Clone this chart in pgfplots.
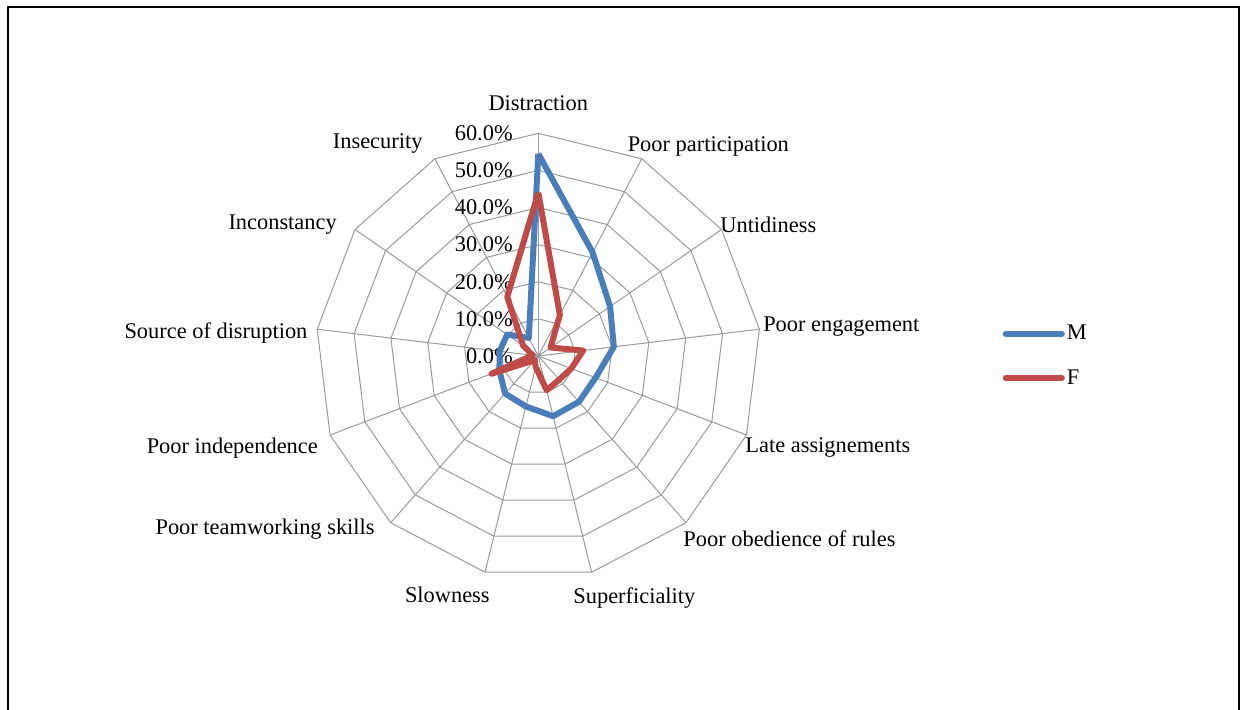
\documentclass[border=0pt]{standalone}
\usepackage{fontspec}
\setmainfont{Liberation Serif}
\usepackage{pgfplots}
\usepackage{pgfplotstable}
\pgfplotsset{compat=1.18}

\definecolor{mblue}{HTML}{4A7EBB}
\definecolor{fred}{HTML}{BE4B48}
\definecolor{gridgray}{HTML}{9A9A9A}

% share of pupils per problem area (%), categories clockwise from the top
\pgfplotstableread{
angle      M     F
90        54.5  44.0
62.3077   31.5  12.5
34.6154   23.5   4.0
6.9231    20.5  12.2
-20.7692  16.5   9.5
-48.4615  16.5   8.5
-76.1538  16.7   9.5
-103.8462 14.0   3.0
-131.5385 13.5   1.5
-159.2308 11.2  13.5
-186.9231 10.5   1.5
-214.6154 10.2   5.0
-242.3077  5.5  18.0
-270      54.5  44.0
}\datatable

\begin{document}
\begin{tikzpicture}[font=\fontsize{11.2}{13.4}\selectfont]
\path[use as bounding box] (0,0) rectangle (621pt,354.5pt);
\draw[line width=1.2pt] (3.9pt,-5pt) -- (3.9pt,351pt) -- (619.5pt,351pt) -- (619.5pt,-5pt);
\begin{axis}[
  at={(269.15pt,176.5pt)}, anchor=center,
  x=1.85585pt, y=1.85585pt,
  xmin=-60, xmax=60, ymin=-60, ymax=60,
  hide axis, clip=false,
  legend style={draw=none, fill=none, at={(1.5420,0.5)}, anchor=west,
    inner sep=0pt, row sep=11.5pt,
    nodes={inner sep=1pt, font=\fontsize{11.2}{13.4}\selectfont}},
  legend cell align=left,
]
% spokes
\pgfplotsinvokeforeach{0,...,12}{
  \draw[gridgray, line width=0.5pt] (axis cs:0,0) -- (axis cs:{60*cos(90-#1*360/13)},{60*sin(90-#1*360/13)});
}
% rings
\pgfplotsinvokeforeach{10,20,30,40,50,60}{
  \addplot[gridgray, line width=0.5pt, mark=none, data cs=polar, forget plot]
    table[x=angle, y expr=#1] {\datatable};
}
% radial tick labels
\pgfplotsinvokeforeach{0,10,20,30,40,50,60}{
  \node[anchor=east, inner sep=0pt, xshift=-12.6pt] at (axis cs:0,#1) {#1.0\%};
}
\addplot[mblue, line width=3pt, line join=round, mark=none, data cs=polar,
  legend image code/.code={\draw[mblue, line width=3pt, line cap=round] (0pt,0pt) -- (28pt,0pt);}]
  table[x=angle, y=M] {\datatable};
\addlegendentry{M}
\addplot[fred, line width=3pt, line join=round, mark=none, data cs=polar,
  legend image code/.code={\draw[fred, line width=3pt, line cap=round] (0pt,0pt) -- (28pt,0pt);}]
  table[x=angle, y=F] {\datatable};
\addlegendentry{F}
% category labels
\node[anchor=center, inner sep=0pt] at (axis cs:0,68.2) {Distraction};
\node[anchor=west, inner sep=0pt] at (axis cs:24.0,56.4) {Poor participation};
\node[anchor=west, inner sep=0pt] at (axis cs:48.95,35.3) {Untidiness};
\node[anchor=west, inner sep=0pt] at (axis cs:60.5,7.8) {Poor engagement};
\node[anchor=west, inner sep=0pt] at (axis cs:55.7,-24.7) {Late assignements};
\node[anchor=west, inner sep=0pt] at (axis cs:39.0,-49.2) {Poor obedience of rules};
\node[anchor=west, inner sep=0pt] at (axis cs:9.35,-65.1) {Superficiality};
\node[anchor=east, inner sep=0pt] at (axis cs:-13.0,-64.4) {Slowness};
\node[anchor=east, inner sep=0pt] at (axis cs:-44.0,-46.6) {Poor teamworking skills};
\node[anchor=east, inner sep=0pt] at (axis cs:-59.3,-24.8) {Poor independence};
\node[anchor=east, inner sep=0pt] at (axis cs:-62.1,6.2) {Source of disruption};
\node[anchor=east, inner sep=0pt] at (axis cs:-54.2,35.4) {Inconstancy};
\node[anchor=east, inner sep=0pt] at (axis cs:-31.1,57.2) {Insecurity};
\end{axis}
\end{tikzpicture}
\end{document}
